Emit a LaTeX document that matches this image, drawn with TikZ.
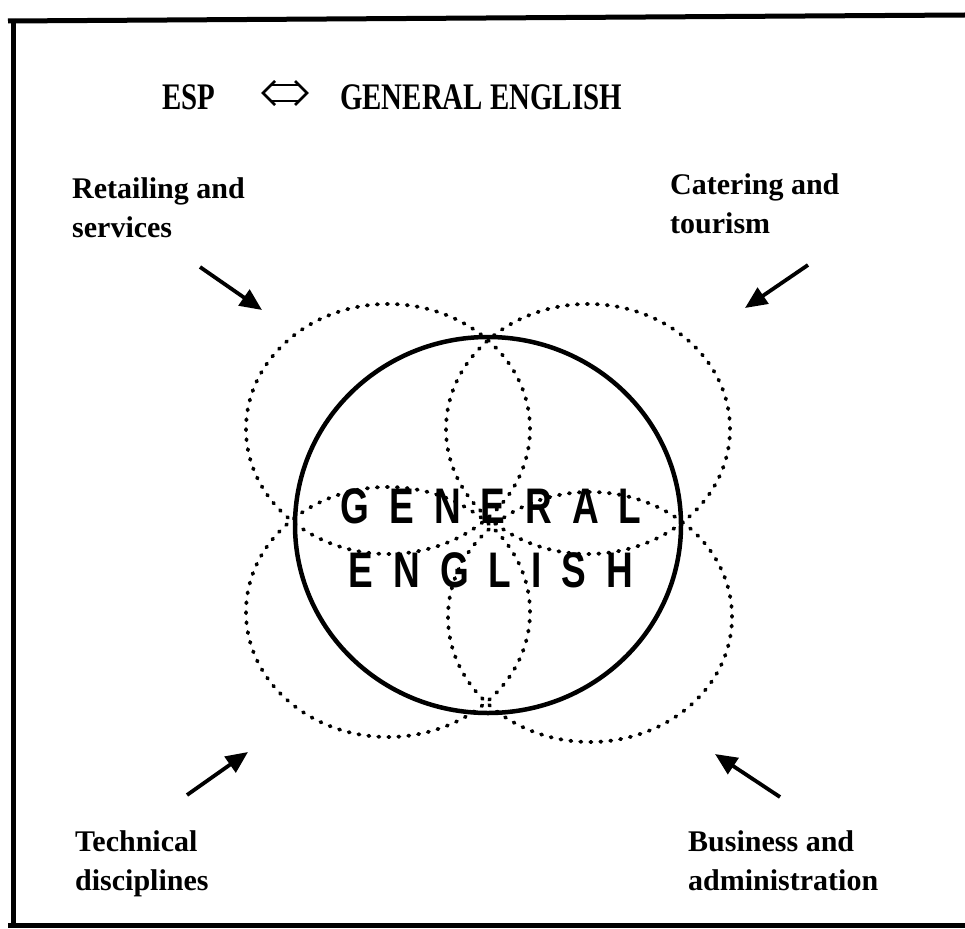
\documentclass[tikz,border=0pt]{standalone}
\usepackage{fontspec}
\setmainfont{Liberation Serif}
\newfontfamily\titlefont{Liberation Serif}[FakeStretch=0.77]
\newfontfamily\centerfont{Liberation Sans}[FakeStretch=0.74]
\usetikzlibrary{arrows.meta}
% fixed gap between the spaced-out capitals in the middle
\newcommand\lsp{\kern20pt}

\begin{document}
\begin{tikzpicture}[x=1pt,y=-1pt,
  framerule/.style={line width=5pt},
  title/.style={font=\titlefont\bfseries\fontsize{37.5}{40}\selectfont, inner sep=0pt, anchor=base west},
  sector/.style={font=\bfseries\fontsize{30}{39}\selectfont, inner sep=0pt, align=left, anchor=base west},
  zone/.style={draw, dash pattern=on 1.2pt off 8.8pt, line cap=round, line width=3.8pt},
  core/.style={draw, line width=4.5pt},
  pointer/.style={line width=3.8pt, -{Triangle[length=22pt,width=19pt]}},
  dblarrow/.style={line width=2.8pt, line join=miter}
]
\useasboundingbox (0,0) rectangle (965,928);
\fill[white] (0,0) rectangle (965,928);

% frame (open on the right)
\draw[framerule] (8,21) -- (965,15);
\draw[framerule] (13,19) -- (13,928);
\draw[framerule] (8,925) -- (965,925);

% heading
\node[title] (esp) at (162,110) {ESP};
\node[title] (ge) at (340,110) {GENERAL ENGLISH};
\coordinate (dbl) at (285,93);
\draw[dblarrow] (dbl) ++(-10,-12) -- ++(-12,12) -- ++(12,12);
\draw[dblarrow] (dbl) ++(10,-12) -- ++(12,12) -- ++(-12,12);
\draw[dblarrow] (dbl) ++(-14,-8) -- ++(28,0);
\draw[dblarrow] (dbl) ++(-14,8) -- ++(28,0);

% four specialised areas
\path[zone] (388,429) ellipse [x radius=142pt, y radius=125pt];
\path[zone] (588,429) ellipse [x radius=142pt, y radius=125pt];
\path[zone] (388,612) ellipse [x radius=142pt, y radius=125pt];
\path[zone] (590,617) ellipse [x radius=142pt, y radius=125pt];

% general English core
\path[core] (488,525) ellipse [x radius=193pt, y radius=188pt];
\node[font=\centerfont\bfseries\fontsize{50}{64}\selectfont, align=center, inner sep=0pt, anchor=base]
  (coretext) at (491,587) {G\lsp E\lsp N\lsp E\lsp R\lsp A\lsp L\\E\lsp N\lsp G\lsp L\lsp I\lsp S\lsp H};

% labels (anchored on the baseline of their last line)
\node[sector] (retail) at (72,237) {Retailing and\\services};
\node[sector] (cater) at (670,233) {Catering and\\tourism};
\node[sector] (tech) at (75,890) {Technical\\disciplines};
\node[sector] (busi) at (688,890) {Business and\\administration};

% pointers
\coordinate (p1s) at (200,267); \coordinate (p1e) at (262,310);
\coordinate (p2s) at (808,265); \coordinate (p2e) at (745,308);
\coordinate (p3s) at (187,795); \coordinate (p3e) at (248,752);
\coordinate (p4s) at (780,797); \coordinate (p4e) at (715,754);
\draw[pointer] (p1s) -- (p1e);
\draw[pointer] (p2s) -- (p2e);
\draw[pointer] (p3s) -- (p3e);
\draw[pointer] (p4s) -- (p4e);
\end{tikzpicture}
\end{document}
